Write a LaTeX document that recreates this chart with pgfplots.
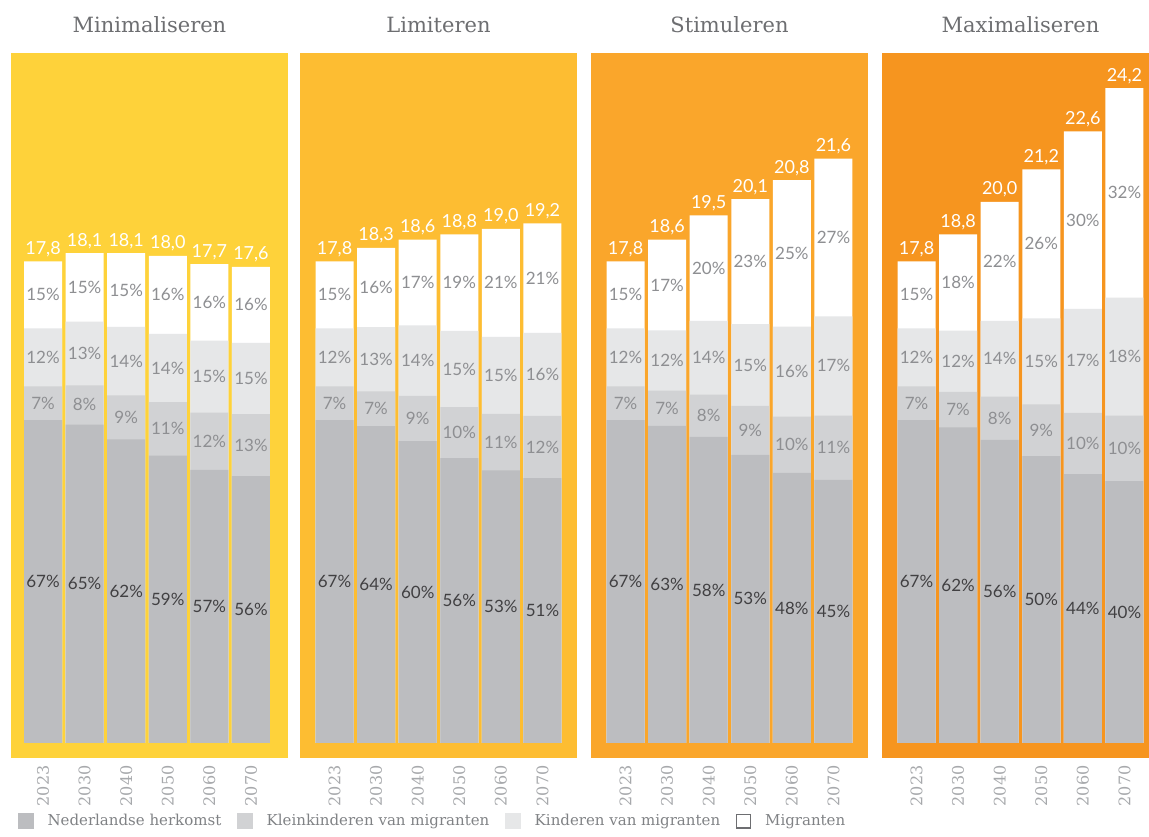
\documentclass[border=0pt]{standalone}
\usepackage{fontspec}
\setmainfont{Lato}
\newfontfamily\slab{DejaVu Serif}
\usepackage{pgfplots}
\pgfplotsset{compat=1.18}
\usepackage{pgfplotstable}

\definecolor{pA}{HTML}{FED23A}
\definecolor{pB}{HTML}{FDBD32}
\definecolor{pC}{HTML}{FAA62B}
\definecolor{pD}{HTML}{F6951F}
\definecolor{cD}{HTML}{BCBDC0}
\definecolor{cK}{HTML}{D1D2D4}
\definecolor{cC}{HTML}{E6E7E8}
\definecolor{tDark}{HTML}{414042}
\definecolor{tGrey}{HTML}{8E8F92}
\definecolor{tTitle}{HTML}{6D6E71}
\definecolor{tYear}{HTML}{A7A9AC}
\definecolor{tLeg}{HTML}{808285}

% segment sizes in millions: d = Nederlandse herkomst, k = kleinkinderen,
% c = kinderen van migranten, t = total; p* = printed percentages
\pgfplotstableread{
x d     k    c    t    pd pk pc pm
0 11.93 1.25 2.14 17.8 67 7  12 15
1 11.77 1.45 2.35 18.1 65 8  13 15
2 11.22 1.63 2.53 18.1 62 9  14 15
3 10.62 1.98 2.52 18.0 59 11 14 16
4 10.09 2.12 2.66 17.7 57 12 15 16
5 9.86  2.29 2.64 17.6 56 13 15 16
}\tA
\pgfplotstableread{
x d     k    c    t    pd pk pc pm
0 11.93 1.25 2.14 17.8 67 7  12 15
1 11.71 1.28 2.38 18.3 64 7  13 16
2 11.16 1.67 2.60 18.6 60 9  14 17
3 10.53 1.88 2.82 18.8 56 10 15 19
4 10.07 2.09 2.85 19.0 53 11 15 21
5 9.79  2.30 3.07 19.2 51 12 16 21
}\tB
\pgfplotstableread{
x d     k    c    t    pd pk pc pm
0 11.93 1.25 2.14 17.8 67 7  12 15
1 11.72 1.30 2.23 18.6 63 7  12 17
2 11.31 1.56 2.73 19.5 58 8  14 20
3 10.65 1.81 3.02 20.1 53 9  15 23
4 9.98  2.08 3.33 20.8 48 10 16 25
5 9.72  2.38 3.67 21.6 45 11 17 27
}\tC
\pgfplotstableread{
x d     k    c    t    pd pk pc pm
0 11.93 1.25 2.14 17.8 67 7  12 15
1 11.66 1.32 2.26 18.8 62 7  12 18
2 11.20 1.60 2.80 20.0 56 8  14 22
3 10.60 1.91 3.18 21.2 50 9  15 26
4 9.94  2.26 3.84 22.6 44 10 17 30
5 9.68  2.42 4.36 24.2 40 10 18 32
}\tD

\pgfplotsset{
  panel/.style={
    anchor=south west, scale only axis,
    width=277pt, height=705pt,
    xmin=-0.83, xmax=5.83, ymin=-0.555, ymax=25.5,
    axis line style={draw=none}, major tick length=0pt,
    ytick=\empty, xtick={0,...,5},
    xticklabels={2023,2030,2040,2050,2060,2070},
    xticklabel style={rotate=90, anchor=east, text=tYear,
      font=\slab\fontsize{16}{16}\selectfont},
    xticklabel shift=4pt,
    title style={at={(0.5,1)}, anchor=base, yshift=14pt, text=tTitle,
      font=\slab\fontsize{21}{21}\selectfont},
    ybar, bar width=38pt, bar shift=0pt, clip=false,
    /pgf/number format/assume math mode=true,
  },
  seg/.style={draw=none, fill=#1},
  lab/.style={draw=none, fill=none, nodes near coords={\pgfplotspointmeta\%},
    point meta=explicit symbolic,
    every node near coord/.append style={anchor=center, inner sep=0pt,
      text=#1, font=\fontsize{17}{17}\selectfont}},
  tot/.style={draw=none, fill=none, point meta=y,
    nodes near coords={\pgfmathprintnumber[fixed,fixed zerofill,precision=1,use comma,assume math mode=true]{\pgfplotspointmeta}},
    every node near coord/.append style={anchor=base, inner sep=0pt, yshift=7pt,
      text=white, font=\fontsize{18}{18}\selectfont}},
}

\newcommand{\bars}[1]{%
  \addplot[seg=white] table[x=x, y=t] {#1};
  \addplot[seg=cC] table[x=x, y expr=\thisrow{d}+\thisrow{k}+\thisrow{c}] {#1};
  \addplot[seg=cK] table[x=x, y expr=\thisrow{d}+\thisrow{k}] {#1};
  \addplot[seg=cD] table[x=x, y=d] {#1};
  \addplot[lab=tDark] table[x=x, y expr=\thisrow{d}/2, meta=pd] {#1};
  \addplot[lab=tGrey] table[x=x, y expr=\thisrow{d}+\thisrow{k}/2, meta=pk] {#1};
  \addplot[lab=tGrey] table[x=x, y expr=\thisrow{d}+\thisrow{k}+\thisrow{c}/2, meta=pc] {#1};
  \addplot[lab=tGrey] table[x=x, y expr=(\thisrow{d}+\thisrow{k}+\thisrow{c}+\thisrow{t})/2, meta=pm] {#1};
  \addplot[tot] table[x=x, y=t] {#1};
}

\begin{document}
\begin{tikzpicture}
\path[use as bounding box] (0pt,0pt) rectangle (1149pt,837pt);

\begin{axis}[panel, at={(11pt,79pt)}, xmin=-0.77, xmax=5.89,
  axis background/.style={fill=pA}, title={Minimaliseren},
  legend columns=4, legend cell align=left,
  legend style={at={(axis description cs:0.025,-0.0894)}, anchor=west,
    draw=none, fill=none, inner sep=0pt, text=tLeg,
    font=\slab\fontsize{15}{15}\selectfont,
    nodes={inner sep=0pt},
    /tikz/every odd column/.append style={column sep=14pt},
    /tikz/every even column/.append style={column sep=16pt}},
]
\addlegendimage{legend image code/.code={\fill[cD] (0pt,-7.5pt) rectangle (15pt,7.5pt);}}
\addlegendentry{Nederlandse herkomst}
\addlegendimage{legend image code/.code={\fill[cK] (0pt,-7.5pt) rectangle (15pt,7.5pt);}}
\addlegendentry{Kleinkinderen van migranten}
\addlegendimage{legend image code/.code={\fill[cC] (0pt,-7.5pt) rectangle (15pt,7.5pt);}}
\addlegendentry{Kinderen van migranten}
\addlegendimage{legend image code/.code={\draw[tTitle, line width=1.2pt, fill=white] (0.6pt,-6.9pt) rectangle (14.4pt,6.9pt);}}
\addlegendentry{Migranten}
\bars{\tA}
\end{axis}

\begin{axis}[panel, at={(300pt,79pt)}, axis background/.style={fill=pB}, title={Limiteren}]
\bars{\tB}
\end{axis}

\begin{axis}[panel, at={(591pt,79pt)}, axis background/.style={fill=pC}, title={Stimuleren}]
\bars{\tC}
\end{axis}

\begin{axis}[panel, at={(882pt,79pt)}, axis background/.style={fill=pD}, title={Maximaliseren}]
\bars{\tD}
\end{axis}
\end{tikzpicture}
\end{document}
